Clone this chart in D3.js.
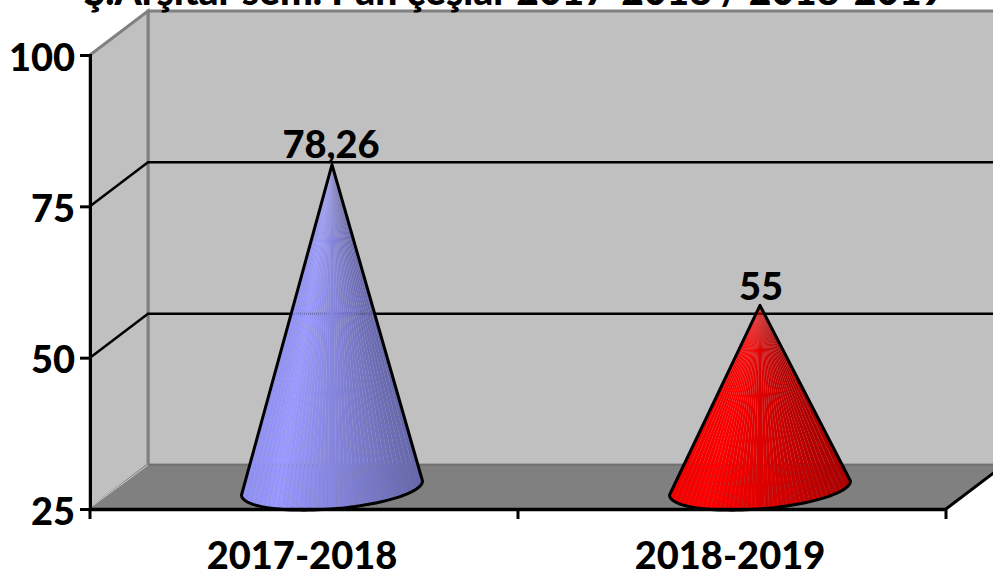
<!DOCTYPE html>
<html>
<head>
<meta charset="utf-8">
<script src="https://cdn.jsdelivr.net/npm/d3@7"></script>
<style>
	body { margin: 0; background: #fff; overflow: hidden; }
	text { font-family: Lato, "Open Sans", sans-serif; font-weight: 900; fill: #000; }
</style>
</head>
<body>
<div id="plot"></div>
<script>
var title = "Ş.Arşitar sem. Pan çeşlar 2017-2018 / 2018-2019";
var categories = ["2017-2018", "2018-2019"];
var values = [78.26, 55];
var valueLabels = ["78,26", "55"];
var coneColors = ["#9999ff", "#ff0000"];
var yTicks = [25, 50, 75, 100];

var width = 993;
var height = 574;
var fontSize = 38;
// the 3d box is just the front plane pushed back by this much
var depthX = 58;
var depthY = -44;

var x = d3.scaleBand().domain(categories).range([90, 946]);
var y = d3.scaleLinear().domain([25, 100]).range([509, 55]);

var svg = d3.select("#plot").append("svg")
	.attr("width", width)
	.attr("height", height);

function poly(points) {
	return "M" + points.map(function(p) { return p[0] + "," + p[1]; }).join("L") + "Z";
}

var x0 = x.range()[0];
var x1 = x.range()[1];
var yTop = y(100);
var yBottom = y(25);

// back wall
svg.append("path")
	.attr("d", poly([[x0 + depthX, yTop + depthY], [x1 + depthX + 10, yTop + depthY], [x1 + depthX + 10, yBottom + depthY], [x0 + depthX, yBottom + depthY]]))
	.attr("fill", "#c0c0c0")
	.attr("stroke", "#808080")
	.attr("stroke-width", 3);

// left wall
svg.append("path")
	.attr("d", poly([[x0, yTop], [x0 + depthX, yTop + depthY], [x0 + depthX, yBottom + depthY], [x0, yBottom]]))
	.attr("fill", "#c0c0c0")
	.attr("stroke", "#808080")
	.attr("stroke-width", 3);

// floor
svg.append("path")
	.attr("d", poly([[x0, yBottom], [x0 + depthX, yBottom + depthY], [x1 + depthX, yBottom + depthY], [x1, yBottom]]))
	.attr("fill", "#808080");
svg.append("line")
	.attr("x1", x0 + depthX).attr("y1", yBottom + depthY)
	.attr("x2", width).attr("y2", yBottom + depthY)
	.attr("stroke", "#6e6e6e")
	.attr("stroke-width", 1.5);
svg.append("line")
	.attr("x1", x0 + 1).attr("y1", yBottom - 2)
	.attr("x2", x0 + depthX).attr("y2", yBottom + depthY)
	.attr("stroke", "#d0d0d0")
	.attr("stroke-width", 1);
svg.append("line")
	.attr("x1", x1).attr("y1", yBottom)
	.attr("x2", x1 + depthX).attr("y2", yBottom + depthY)
	.attr("stroke", "#000")
	.attr("stroke-width", 3);

// grid lines, 25 and 100 sit on the box edges
svg.append("g")
	.selectAll("path")
	.data([50, 75])
	.enter().append("path")
	.attr("d", function(d) {
		return "M" + x0 + "," + y(d) + "L" + (x0 + depthX) + "," + (y(d) + depthY) + "L" + width + "," + (y(d) + depthY);
	})
	.attr("fill", "none")
	.attr("stroke", "#000")
	.attr("stroke-width", 2.5);

// cones
var slices = 40;
var radiusX = 90.5;
var radiusY = 21;
var tilt = -7;

function conePoint(cx, cy, t) {
	return [cx + radiusX * Math.cos(t), cy + tilt * Math.cos(t) + radiusY * Math.sin(t)];
}

var cones = svg.append("g")
	.selectAll("g")
	.data(values)
	.enter().append("g");

cones.each(function(v, i) {
	var g = d3.select(this);
	var cx = x(categories[i]) + x.bandwidth() / 2 + depthX / 2 - 1;
	var cy = yBottom + depthY / 2 + 1;
	var apex = [cx, y(v) + depthY / 2];
	var base = d3.color(coneColors[i]);
	var shade = d3.scaleLinear()
		.domain([0, 0.18, 1])
		.range([base.darker(0.15).formatHex(), base.formatHex(), base.darker(1.15).formatHex()]);

	// even steps across the base so the slices are about the same width
	for (var s = 0; s < slices; s++) {
		var t0 = Math.acos(1 - 2 * s / slices);
		var t1 = Math.acos(1 - 2 * (s + 1) / slices);
		var p0 = conePoint(cx, cy, Math.PI - t0);
		var p1 = conePoint(cx, cy, Math.PI - t1);
		g.append("path")
			.attr("d", poly([apex, p0, p1]))
			.attr("fill", shade(s / slices));
	}

	var rim = d3.range(0, 61).map(function(s) {
		return conePoint(cx, cy, Math.PI - Math.PI * s / 60);
	});
	g.append("path")
		.attr("d", poly([apex].concat(rim)))
		.attr("fill", "none")
		.attr("stroke", "#000")
		.attr("stroke-width", 3)
		.attr("stroke-linejoin", "round");

	g.append("text")
		.attr("x", apex[0] + (i == 0 ? -1 : 1))
		.attr("y", apex[1] - (i == 0 ? 7 : 5))
		.attr("text-anchor", "middle")
		.attr("font-size", fontSize)
		.text(valueLabels[i]);
});

// axes
var yAxis = svg.append("g")
	.attr("transform", "translate(" + x0 + ",0)")
	.call(d3.axisLeft(y).tickValues(yTicks).tickSize(10).tickPadding(5).tickFormat(d3.format("d")));
yAxis.attr("font-family", null);
yAxis.selectAll("text").attr("font-size", fontSize).attr("dy", "0.4em");
yAxis.selectAll("line").attr("stroke", "#000").attr("stroke-width", 3);
yAxis.select(".domain").attr("stroke", "#000").attr("stroke-width", 3);

var xAxis = svg.append("g")
	.attr("transform", "translate(0," + yBottom + ")")
	.call(d3.axisBottom(x).tickSize(0).tickPadding(33));
xAxis.attr("font-family", null);
xAxis.selectAll("text").attr("font-size", fontSize).attr("dx", "-2");
xAxis.select(".domain").attr("stroke", "#000").attr("stroke-width", 3.5);

// ticks go between the categories
svg.append("g")
	.selectAll("line")
	.data(categories.concat(["end"]))
	.enter().append("line")
	.attr("x1", function(d, i) { return x0 + i * x.step(); })
	.attr("x2", function(d, i) { return x0 + i * x.step(); })
	.attr("y1", yBottom)
	.attr("y2", yBottom + 10)
	.attr("stroke", "#000")
	.attr("stroke-width", 3);

// title is cut off by the top of the picture
svg.append("text")
	.attr("x", 514)
	.attr("y", 5)
	.attr("text-anchor", "middle")
	.attr("font-size", fontSize + 1)
	.text(title);
</script>
</body>
</html>
